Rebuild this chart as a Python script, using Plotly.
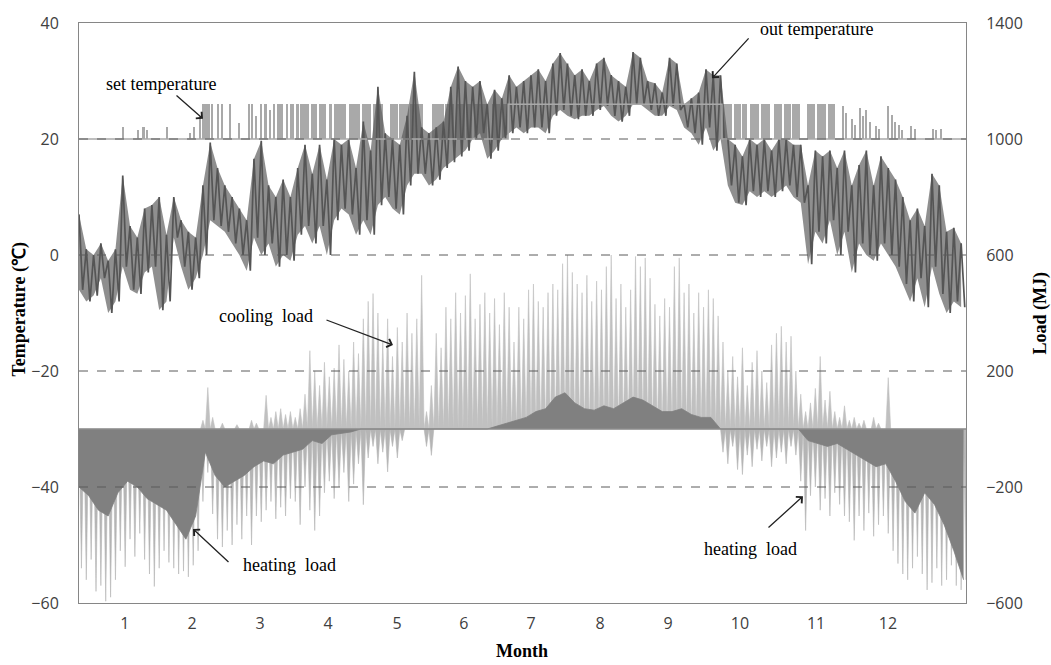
import plotly.graph_objects as go

# ---------------- time axis (day of year) ----------------
month_labels = ["1", "2", "3", "4", "5", "6", "7", "8", "9", "10", "11", "12"]
month_label_day = [18.9, 46.5, 74.5, 102.5, 130.9, 158.4, 186.0, 214.4, 242.4, 272.0, 303.3, 332.9]

# ---------------- outdoor temperature (deg C), 3-day high / low ----------------
temp_step_days = 3
out_temp_high = [
    7, 1, 0, 2, -1, 1, 13.7, 5, 3, 8,
    8.6, 10, 3.5, 10, 6, 4, 3, 12, 19.4, 15,
    12, 10, 8, 6, 16.6, 19.7, 12, 10, 13, 10,
    15, 19, 14, 19, 13, 20, 19, 20, 15, 23,
    18, 29, 21, 20, 19, 24, 31.6, 22, 21, 22,
    23, 29, 32.5, 30, 29, 30, 26, 28.5, 27, 31,
    29, 30, 31, 32, 30, 33, 34.8, 33, 31, 32,
    30, 33, 34, 31, 30, 29, 35, 34, 30, 29.6,
    28, 34, 33, 26, 27, 28, 32, 31, 31, 20,
    19, 17, 20, 19, 20, 18, 20, 20, 19, 19,
    12, 18, 17, 18, 15, 18, 12, 15.5, 18, 12,
    17, 15, 13, 10, 6, 8, 5, 14, 12, 4,
    4.7, 2,
]
out_temp_low = [
    -6, -8, -7, -4, -10, -8, -2, -6, -6.7, -3,
    -2, -9.5, -8, 3, -2, -6, -4, 0, 6, 5,
    4, 2, 0, -2.7, 3, 0, 2, -2, 0, -1,
    3.5, 5, 2, 5, 0, 6, 8, 7, 3.5, 6,
    3.5, 8.6, 10, 8, 7, 12, 14, 14, 12, 13,
    15, 16, 17, 18, 20, 21, 16.6, 18, 20, 21,
    22, 21, 22, 22, 21, 24, 25, 24, 23.4, 24,
    24, 25, 25.7, 24, 23, 24, 26, 26, 25, 24,
    24, 25.7, 25, 22, 21, 19, 22, 18, 20, 12,
    9, 8.6, 11, 10, 11, 10, 11, 12, 10, 9,
    -1.6, 4, 2, 6, 0, 4, -3, 2, 0, -1,
    2, 0, -2, -5, -8, -4, -9, -2, -6.7, -10,
    -8, -9,
]

# ---------------- set temperature (deg C) ----------------
# periods where the set point is raised above 20 (start day, end day, set value)
set_band_start = [
    17.7, 24.0, 26.0, 27.6, 35.8, 45.6, 47.0, 49.2, 50.8, 54.4,
    57.0, 58.6, 62.0, 65.6, 69.6, 71.0, 72.6, 74.6, 76.2, 78.0,
    80.0, 81.6, 85.0, 87.0, 89.2, 91.0, 95.4, 98.6, 102.8, 104.8,
    111.0, 116.6, 121.0, 128.0, 131.8, 136.2, 145.3, 150.6, 155.0, 159.4,
    162.6, 170.0, 174.0,
    264.6, 269.4, 273.0, 276.2, 280.6, 285.8, 290.0, 293.6, 299.6, 303.8,
    308.2, 314.0, 315.4, 318.0, 319.2, 321.0, 322.4, 323.8, 325.2, 327.6,
    329.0, 332.6, 334.2, 335.4, 337.4, 338.6, 342.2, 343.8, 351.2, 352.6,
    354.6,
]
set_band_end = [
    18.7, 24.6, 27.0, 28.1, 36.6, 46.1, 47.8, 50.2, 53.8, 55.2,
    57.6, 59.2, 62.6, 66.2, 70.2, 71.6, 73.2, 75.2, 77.2, 79.0,
    80.6, 84.0, 86.2, 88.4, 90.6, 94.6, 98.0, 101.8, 104.2, 110.0,
    115.6, 120.2, 125.0, 131.2, 135.6, 141.6, 150.0, 154.4, 158.8, 161.7,
    168.0, 173.2, 176.6,
    268.8, 272.4, 274.8, 280.0, 284.2, 289.4, 293.0, 296.6, 303.0, 307.4,
    311.0, 314.8, 316.0, 318.6, 319.8, 321.8, 323.0, 324.4, 325.8, 328.2,
    329.6, 333.4, 334.8, 336.0, 338.0, 339.0, 342.8, 344.4, 351.8, 353.2,
    355.2,
]
set_band_top = [
    22, 21.5, 22, 21.5, 22, 21, 22, 24, 26, 26,
    26, 26, 26, 22.7, 26, 26, 24, 26, 26, 25,
    26, 26, 26, 26, 26, 26, 26, 26, 26, 26,
    26, 26, 26, 26, 26, 26, 26, 26, 26, 26,
    26, 26, 26,
    26, 26, 26, 26, 26, 26, 26, 26, 26, 26,
    26, 25.7, 24.5, 23.4, 22.5, 25.4, 24.0, 25.0, 23.0, 22.3,
    21.8, 25.7, 24.2, 23.0, 22.4, 21.5, 22.3, 21.8, 21.7, 21.5,
    21.7,
]
# steady set point: 20 in heating season, 26 through mid-summer
set_line_day = [0, 176.6, 264.6, 365]
set_line_temp = [20, 26, 20, 20]

# ---------------- loads (MJ) ----------------
load_step_days = 2
cooling_peak = [
    0, 0, 0, 0, 0, 0, 0, 0, 0, 0,
    0, 0, 0, 0, 0, 0, 0, 0, 0, 0,
    0, 0, 0, 0,
    0, 30, 143, 40, 0, 20, 0, 0, 15, 0,
    0, 30, 20, 0, 116, 40, 60, 70, 50, 60,
    40, 70, 120, 270, 200, 150, 230, 180, 210, 290,
    240, 200, 300, 260, 380, 440, 467, 400, 300, 380,
    250, 350, 300, 400, 330, 380, 530, 60, 150, 330,
    280, 420, 380, 470, 400, 460, 535, 380, 430, 470,
    400, 450, 360, 470, 420, 300, 420, 380, 480, 500,
    440, 420, 470, 500, 480, 570, 600, 540, 500, 470,
    530, 440, 510, 480, 560, 600, 450, 500, 420, 480,
    595, 560, 590, 520, 430, 390, 450, 420, 560, 590,
    470, 500, 400, 470, 420, 480, 450, 390, 300, 200,
    250, 180, 280, 150, 230, 270, 200, 160, 290, 330,
    354, 300, 320, 200, 120, 60, 90, 140, 250, 100,
    130, 60, 40, 80, 30, 40, 20, 30, 0, 40,
    20, 0, 177,
    0, 0, 0, 0, 0, 0, 0, 0, 0, 0,
    0, 0, 0, 0, 0, 0,
]
heating_peak = [
    -480, -520, -450, -560, -540, -594, -580, -520, -420, -475,
    -380, -440, -360, -450, -500, -543, -480, -420, -460, -480,
    -500, -490, -510, -470, -420, -250, -150, -293, -380, -407,
    -350, -400, -330, -380, -300, -400, -300, -320, -280, -250,
    -310, -270, -300, -240, -250, -330, -200, -280, -350, -300,
    -220, -180, -240, -200, -150, -250, -190, -120, -261, -100,
    -60, -120, -80, -148, -60, -100, -40, 0, 0, 0,
    0, -60, -91, 0, 0, 0, 0, 0, 0, 0,
    0, 0, 0, 0, 0, 0, 0, 0, 0, 0,
    0, 0, 0, 0, 0, 0, 0, 0, 0, 0,
    0, 0, 0, 0, 0, 0, 0, 0, 0, 0,
    0, 0, 0, 0, 0, 0, 0, 0, 0, 0,
    0, 0, 0, 0, 0, 0, 0, 0, 0, 0,
    0, 0,
    -80, -120, -60, -140, -157, -90, -130, -70, -110, -60,
    -130, -100, -80, -120, -60, -90, -180, -350, -230, -200,
    -280, -240, -300, -220, -260, -300, -320, -384, -300, -350,
    -290, -370, -330, -300, -360, -420, -464, -500, -520, -480,
    -440, -500, -555, -530, -480, -540, -520, -470, -540, -555, -520,
]
# load level held through most hours (4-day samples)
base_step_days = 4
base_load = [
    -200, -230, -280, -300, -220, -180, -200, -240, -260, -280,
    -330, -380, -300, -80, -160, -200, -180, -160, -130, -110,
    -120, -90, -80, -70, -40, -50, -20, -15, -10, 0,
    0, 0, 0, 0, 0, 0, 0, 0, 0, 0,
    0, 0, 0, 10, 20, 30, 40, 60, 70, 110,
    125, 90, 70, 65, 80, 70, 90, 110, 100, 80,
    60, 60, 70, 50, 40, 40, 0, 0, 0, 0,
    0, 0, 0, 0, 0, -40, -50, -60, -50, -70,
    -90, -110, -130, -120, -180, -250, -290, -220, -260, -330,
    -420, -520,
]

temp_ticks = [-60, -40, -20, 0, 20, 40]
load_ticks = [-600, -200, 200, 600, 1000, 1400]

# ---------------- colours / fonts ----------------
DARK = "#555555"
DARK_FILL = "rgba(85,85,85,0.66)"
SET_GREY = "#a9a9a9"
COOL_LIGHT = "#c0c0c0"
HEAT_LIGHT = "#b5b5b5"
LOAD_DARK = "#808080"
FRAME = "#868686"
SERIF = "Liberation Serif"
SANS = "Open Sans"

fig = go.Figure()

# outdoor temperature: ribbon between lows and highs, zig-zag line on top
days_t = [k * temp_step_days for k in range(len(out_temp_high))]
fig.add_trace(go.Scatter(x=days_t, y=out_temp_low, mode="lines",
                         line=dict(color="rgba(0,0,0,0)", width=0), hoverinfo="skip"))
fig.add_trace(go.Scatter(x=days_t, y=out_temp_high, mode="lines",
                         line=dict(color="rgba(0,0,0,0)", width=0), fill="tonexty",
                         fillcolor=DARK_FILL, hoverinfo="skip"))
tx, ty = [], []
for d, hi, lo in zip(days_t, out_temp_high, out_temp_low):
    tx += [d, d + temp_step_days / 2]
    ty += [hi, lo]
fig.add_trace(go.Scatter(x=tx, y=ty, mode="lines",
                         line=dict(color=DARK, width=1.7), hoverinfo="skip"))

# set temperature: raised set-point periods as bars on the 20 deg base
fig.add_trace(go.Bar(
    x=[(s + e) / 2 for s, e in zip(set_band_start, set_band_end)],
    width=[e - s for s, e in zip(set_band_start, set_band_end)],
    y=[t - 20 for t in set_band_top], base=20,
    marker=dict(color=SET_GREY, line=dict(width=0)), hoverinfo="skip"))
fig.add_trace(go.Scatter(x=set_line_day, y=set_line_temp, mode="lines",
                         line=dict(color=SET_GREY, width=1.4, shape="hv"),
                         hoverinfo="skip"))


def spikes(peaks, step):
    xs, ys = [], []
    for i, p in enumerate(peaks):
        d = i * step
        xs += [d, d + step / 2]
        ys += [0, p]
    xs.append(len(peaks) * step)
    ys.append(0)
    return xs, ys


cx, cy = spikes(cooling_peak, load_step_days)
hx, hy = spikes(heating_peak, load_step_days)
for (xs, ys), col in (((cx, cy), COOL_LIGHT), ((hx, hy), HEAT_LIGHT)):
    fig.add_trace(go.Scatter(x=xs, y=ys, yaxis="y2", mode="lines",
                             line=dict(color=col, width=0.6),
                             fill="tozeroy", fillcolor=col, hoverinfo="skip"))

fig.add_trace(go.Scatter(x=[i * base_step_days for i in range(len(base_load))],
                         y=base_load, yaxis="y2", mode="lines",
                         line=dict(color=LOAD_DARK, width=0.8),
                         fill="tozeroy", fillcolor=LOAD_DARK, hoverinfo="skip"))

# dashed reference lines at the inner temperature ticks, zero-load line
shapes = []
for t in temp_ticks[1:-1]:
    shapes.append(dict(type="line", xref="paper", x0=0, x1=1, yref="y", y0=t, y1=t,
                       line=dict(color="#5a5a5a", width=1, dash="dash"), layer="above"))
shapes.append(dict(type="line", xref="paper", x0=0, x1=1, yref="y2", y0=0, y1=0,
                   line=dict(color="#8c8c8c", width=1.5), layer="above"))

# plot-area pixel geometry used to place labels and arrows
L, R, T, B = 79, 966, 16, 603


def px(xp):
    return (xp - L) / (R - L)


def py(yp):
    return (B - yp) / (B - T)


notes = [
    ("set temperature", 161, 78),
    ("out temperature", 816, 22),
    ("cooling\u00a0 load", 266, 313),
    ("heating\u00a0 load", 289, 565),
    ("heating\u00a0 load", 750, 548),
]
ann = []
for text, x0, y0 in notes:
    ann.append(dict(text=text, xref="x domain", yref="y domain", x=px(x0), y=py(y0),
                    showarrow=False, font=dict(family=SERIF, size=18, color="black"),
                    xanchor="center", yanchor="middle"))

arrows = [
    ((175, 88), (203, 113)),
    ((750, 30), (712, 72)),
    ((325, 316), (393, 342)),
    ((230, 563), (193, 528)),
    ((767, 528), (803, 495)),
]
for (tx0, ty0), (hx0, hy0) in arrows:
    ann.append(dict(text="", xref="x domain", yref="y domain", axref="x domain",
                    ayref="y domain", x=px(hx0), y=py(hy0), ax=px(tx0), ay=py(ty0),
                    showarrow=True, arrowhead=4, arrowsize=1.3, arrowwidth=1.3,
                    arrowcolor="#222222"))

ann.append(dict(text="<b>Temperature (\u2103)</b>", xref="paper", yref="paper",
                x=px(20), y=py(306), showarrow=False, textangle=-90,
                xanchor="center", yanchor="middle",
                font=dict(family=SERIF, size=18, color="black")))
ann.append(dict(text="<b>Load (MJ)</b>", xref="paper", yref="paper",
                x=px(1040), y=py(310), showarrow=False, textangle=-90,
                xanchor="center", yanchor="middle",
                font=dict(family=SERIF, size=18, color="black")))
ann.append(dict(text="<b>Month</b>", xref="paper", yref="paper",
                x=px(522), y=py(652), showarrow=False,
                xanchor="center", yanchor="middle",
                font=dict(family=SERIF, size=18, color="black")))

tick_font = dict(family=SANS, size=16, color="#404040")

fig.update_layout(
    width=1051, height=665,
    margin=dict(l=L, r=1051 - R, t=T, b=665 - B),
    paper_bgcolor="white", plot_bgcolor="white",
    showlegend=False, barmode="overlay", bargap=0,
    shapes=shapes, annotations=ann,
    xaxis=dict(range=[0, 365], tickvals=month_label_day, ticktext=month_labels,
               showgrid=False, zeroline=False, showline=True, mirror=True,
               linecolor=FRAME, linewidth=1, ticks="", tickfont=tick_font,
               ticklabelstandoff=6),
    yaxis=dict(range=[-60, 40], tickvals=temp_ticks, showgrid=False, zeroline=False,
               showline=True, mirror=True, linecolor=FRAME, linewidth=1, ticks="",
               tickfont=tick_font, ticklabelstandoff=16),
    yaxis2=dict(range=[-600, 1400], tickvals=load_ticks, overlaying="y", side="right",
                showgrid=False, zeroline=False, showline=True, linecolor=FRAME,
                linewidth=1, ticks="", tickfont=tick_font, ticklabelstandoff=16),
)

fig.write_html("out.html")
